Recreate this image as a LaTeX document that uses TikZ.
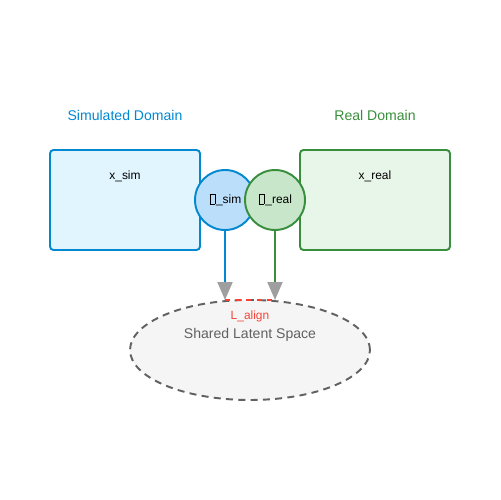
\documentclass[tikz,border=0pt]{standalone}
\usepackage{fontspec}
\setmainfont{Liberation Sans}
\usetikzlibrary{arrows.meta,shapes.geometric}
\definecolor{simblue}{HTML}{0288D1}
\definecolor{simfill}{HTML}{E1F5FE}
\definecolor{simz}{HTML}{BBDEFB}
\definecolor{realgreen}{HTML}{388E3C}
\definecolor{realfill}{HTML}{E8F5E9}
\definecolor{realz}{HTML}{C8E6C9}
\definecolor{latentgray}{HTML}{616161}
\definecolor{latentfill}{HTML}{F5F5F5}
\definecolor{alignred}{HTML}{F44336}
\newcommand\tofu{\hspace{0.08em}{\setlength\fboxsep{0pt}\setlength\fboxrule{0.2pt}\fbox{\rule{0pt}{1.45ex}\hspace{0.38em}}}\hspace{0.1em}}
\tikzset{
  domainbox/.style={draw, rounded corners=2pt, line width=1.1pt, minimum width=3cm, minimum height=2cm},
  latentz/.style={draw, circle, line width=1.1pt, minimum size=1.2cm, inner sep=0pt, font=\fontsize{6.8}{8}\selectfont},
  title/.style={font=\fontsize{8}{9}\selectfont},
  small/.style={font=\fontsize{6.8}{8}\selectfont},
  encode/.style={line width=1.1pt, -{Triangle[length=0.36cm, width=0.3cm, color=gray!75]}}
}
\begin{document}
\begin{tikzpicture}[x=0.02cm, y=-0.02cm]
  \useasboundingbox (0,0) rectangle (500,500);
  % domains
  \node[title, text=simblue] (simtitle) at (125,115) {Simulated Domain};
  \node[title, text=realgreen] (realtitle) at (375,115) {Real Domain};
  \node[domainbox, draw=simblue, fill=simfill] (sim) at (125,200) {};
  \node[domainbox, draw=realgreen, fill=realfill] (real) at (375,200) {};
  \node[small] (xsim) at (125,176) {x\_sim};
  \node[small] (xreal) at (375,176) {x\_real};
  % latent space
  \node[draw=latentgray, dash pattern=on 4pt off 3pt, line width=1.1pt, fill=latentfill, ellipse,
    minimum width=4.8cm, minimum height=2cm] (latent) at (250,350) {};
  \node[title, text=latentgray] (latenttext) at (250,335) {Shared Latent Space};
  % encoders
  \node[latentz, draw=simblue, fill=simz] (zsim) at (225,200) {\raisebox{1.2pt}{\tofu\_sim}};
  \node[latentz, draw=realgreen, fill=realz] (zreal) at (275,200) {\raisebox{1.2pt}{\tofu\_real}};
  \coordinate (simend) at (225,300);
  \coordinate (realend) at (275,300);
  \begin{scope}[encode]
    \draw[simblue] (zsim) -- (simend);
    \draw[realgreen] (zreal) -- (realend);
  \end{scope}
  % alignment loss
  \draw[alignred, dashed, line width=1.1pt] (simend) -- (realend);
  \node[small, text=alignred] (align) at (250,316) {L\_align};
\end{tikzpicture}
\end{document}
